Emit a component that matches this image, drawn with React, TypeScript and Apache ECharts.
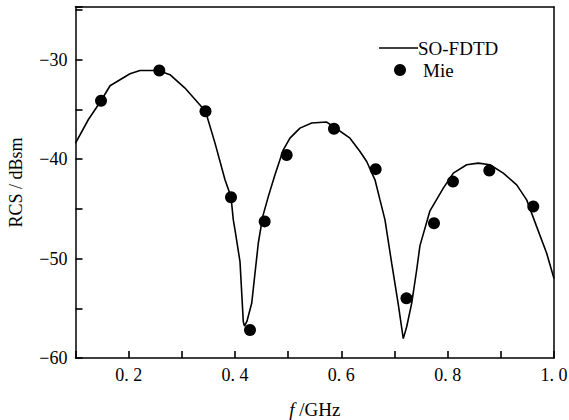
import React, { useEffect, useRef } from "react";
import * as echarts from "echarts";

const fdtdFreq = [
  0.1, 0.124, 0.148, 0.165, 0.2025, 0.2213, 0.2557, 0.2777, 0.3059, 0.3445, 0.3624, 0.3812, 0.3925,
  0.3968, 0.4, 0.4094, 0.4156, 0.4178, 0.4225, 0.4314, 0.4376, 0.4438, 0.4521, 0.4626, 0.4752, 0.4908,
  0.5034, 0.5222, 0.5442, 0.5724, 0.5849, 0.6163, 0.6351, 0.6477, 0.6633, 0.6727, 0.6821, 0.6947,
  0.7071, 0.7165, 0.7229, 0.7323, 0.7417, 0.7479, 0.7667, 0.7918, 0.8106, 0.8358, 0.8576, 0.8796,
  0.9046, 0.9298, 0.9486, 0.9674, 0.9862, 1.0,
];
const fdtdRcs = [
  -38.39, -36.04, -34.13, -32.62, -31.41, -31.08, -31.08, -31.51, -32.85, -35.19, -38.39, -42.08, -43.8,
  -46.11, -47.12, -50.31, -56.35, -56.79, -56.3, -54.5, -51.48, -48.46, -45.78, -43.77, -41.58, -39.06,
  -37.89, -36.88, -36.37, -36.27, -36.72, -37.89, -39.23, -40.24, -42.08, -44.1, -46.11, -50.47,
  -54.6, -58.05, -56.86, -54.5, -51.15, -48.7, -45.2, -42.92, -41.41, -40.57, -40.4, -40.57,
  -41.41, -42.59, -44.1, -46.79, -49.47, -52.0,
];
const mieFreq = [0.148, 0.2576, 0.3445, 0.3925, 0.4282, 0.4558, 0.4972, 0.5862, 0.6646, 0.7225, 0.7743, 0.81, 0.8783, 0.961];
const mieRcs = [-34.13, -31.08, -35.19, -43.83, -57.19, -46.26, -39.59, -36.95, -41.01, -54.0, -46.45, -42.26, -41.15, -44.77];

const seriesNames = ["SO-FDTD", "Mie"];
const xTitle = "/GHz";
const yTitle = "RCS / dBsm";

const FONT = "'Liberation Serif', 'Times New Roman', serif";

export default function App() {
  const ref = useRef<HTMLDivElement>(null);
  useEffect(() => {
    if (!ref.current) return;
    const chart = echarts.init(ref.current, null, { renderer: "svg" });
    chart.setOption({
      animation: false,
      grid: {
        left: 75.5,
        top: 7,
        width: 478.5,
        height: 351,
        outerBoundsMode: "none",
      },
      xAxis: [
        {
          type: "value",
          min: 0.1,
          max: 1.0,
          interval: 0.1,
          position: "bottom",
          axisLine: { show: true, onZero: false, lineStyle: { color: "#000", width: 1.5 } },
          axisTick: { show: true, inside: true, length: 7, lineStyle: { color: "#000", width: 1.6 } },
          splitLine: { show: false },
          axisLabel: {
            color: "#000",
            fontFamily: FONT,
            fontSize: 18,
            formatter: (v: number) => {
              const k = Math.round(v * 10);
              if (k % 2 !== 0) return "";
              return (k / 10).toFixed(1).replace(".", ". ");
            },
          },
          name: "{i|f} " + xTitle,
          nameLocation: "middle",
          nameGap: 42,
          nameTextStyle: {
            color: "#000",
            fontFamily: FONT,
            fontSize: 19,
            rich: { i: { fontStyle: "italic", fontFamily: FONT, fontSize: 19, color: "#000" } },
          },
        },
        {
          type: "value",
          min: 0.1,
          max: 1.0,
          position: "top",
          axisLine: { show: true, onZero: false, lineStyle: { color: "#000", width: 1.5 } },
          axisTick: { show: false },
          axisLabel: { show: false },
          splitLine: { show: false },
        },
      ],
      yAxis: [
        {
          type: "value",
          min: -60,
          max: -24.7,
          interval: 5,
          position: "left",
          axisLine: { show: true, onZero: false, lineStyle: { color: "#000", width: 1.5 } },
          axisTick: { show: true, inside: true, length: 7, lineStyle: { color: "#000", width: 1.6 } },
          splitLine: { show: false },
          axisLabel: {
            color: "#000",
            fontFamily: FONT,
            fontSize: 18,
            formatter: (v: number) => {
              const r = Math.round(v);
              if (Math.abs(v - r) > 1e-6 || r % 10 !== 0) return "";
              return r < 0 ? "\u2212" + Math.abs(r) : String(r);
            },
          },
          name: yTitle,
          nameLocation: "middle",
          nameGap: 51,
          nameTextStyle: { color: "#000", fontFamily: FONT, fontSize: 18 },
        },
        {
          type: "value",
          min: -60,
          max: -24.7,
          position: "right",
          axisLine: { show: true, onZero: false, lineStyle: { color: "#000", width: 1.5 } },
          axisTick: { show: false },
          axisLabel: { show: false },
          splitLine: { show: false },
        },
      ],
      series: [
        {
          name: seriesNames[0],
          type: "line",
          xAxisIndex: 0,
          yAxisIndex: 0,
          data: fdtdFreq.map((f, i) => [f, fdtdRcs[i]]),
          showSymbol: false,
          symbol: "none",
          smooth: false,
          lineStyle: { color: "#000", width: 1.6 },
        },
        {
          name: seriesNames[1],
          type: "scatter",
          xAxisIndex: 0,
          yAxisIndex: 0,
          data: mieFreq.map((f, i) => [f, mieRcs[i]]),
          symbol: "circle",
          symbolSize: 12,
          itemStyle: { color: "#000", opacity: 1 },
        },
      ],
      graphic: [
        {
          type: "line",
          shape: { x1: 379, y1: 48, x2: 418, y2: 48 },
          style: { stroke: "#000", lineWidth: 1.6 },
        },
        {
          type: "text",
          x: 418,
          y: 48,
          style: {
            text: seriesNames[0],
            fontFamily: FONT,
            fontSize: 19,
            fill: "#000",
            textAlign: "left",
            textVerticalAlign: "middle",
          },
        },
        {
          type: "circle",
          shape: { cx: 400, cy: 70, r: 6 },
          style: { fill: "#000" },
        },
        {
          type: "text",
          x: 423,
          y: 70,
          style: {
            text: seriesNames[1],
            fontFamily: FONT,
            fontSize: 19,
            fill: "#000",
            textAlign: "left",
            textVerticalAlign: "middle",
          },
        },
      ],
    });
    return () => chart.dispose();
  }, []);
  return (
    <div
      ref={ref}
      style={{ position: "fixed", left: 0, top: 0, width: 569, height: 420, background: "#fff" }}
    />
  );
}
